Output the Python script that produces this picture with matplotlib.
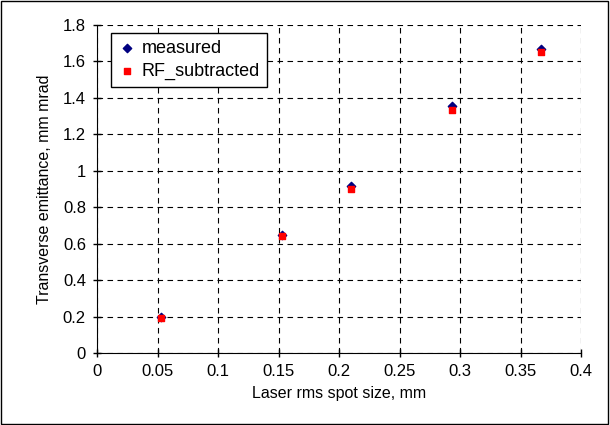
import matplotlib.pyplot as plt
import numpy as np

spot = [0.053, 0.153, 0.210, 0.293, 0.367]
measured = [0.195, 0.650, 0.915, 1.355, 1.670]
rf_sub = [0.190, 0.640, 0.900, 1.335, 1.650]

xticks = np.arange(0, 0.41, 0.05)
yticks = np.arange(0, 1.81, 0.2)
xlabels = ['0', '0.05', '0.1', '0.15', '0.2', '0.25', '0.3', '0.35', '0.4']
ylabels = ['0', '0.2', '0.4', '0.6', '0.8', '1', '1.2', '1.4', '1.6', '1.8']

plt.rcParams['font.family'] = ['Liberation Sans', 'DejaVu Sans']
plt.rcParams['font.size'] = 11

fig = plt.figure(figsize=(6.10, 4.25), dpi=100)
ax = fig.add_axes([97/610, 1 - 353/425, 484/610, 328/425])

# outer chart border
fig.patches.append(plt.Rectangle((0.002, 0.002), 0.995, 0.995, transform=fig.transFigure,
                                 fill=False, edgecolor='black', linewidth=1))

ax.scatter(spot, measured, marker='D', s=18, color='#000080', zorder=3, label='measured')
ax.scatter(spot, rf_sub, marker='s', s=18, color='#ff0000', zorder=4, label='RF_subtracted')

ax.set_xlim(0, 0.4)
ax.set_ylim(0, 1.8)
ax.set_xticks(xticks)
ax.set_xticklabels(xlabels)
ax.set_yticks(yticks)
ax.set_yticklabels(ylabels)
ax.grid(True, color='black', linestyle=(0, (5, 4)), linewidth=0.8)
ax.spines['top'].set_visible(False)
ax.spines['right'].set_visible(False)
ax.tick_params(direction='inout', length=6, width=1, pad=5, labelsize=12)

ax.set_xlabel('Laser rms spot size, mm', labelpad=5, fontsize=11.5)
ax.set_ylabel('Transverse emittance, mm mrad', labelpad=8, fontsize=11.5)

leg = ax.legend(loc='upper left', bbox_to_anchor=(0.029, 0.976), borderaxespad=0,
                fancybox=False, framealpha=1, edgecolor='black', handletextpad=0.3,
                borderpad=0.4, handlelength=1.0, labelspacing=0.3, fontsize=13)
leg.get_frame().set_linewidth(1)

fig.savefig('out.png', dpi=100)
